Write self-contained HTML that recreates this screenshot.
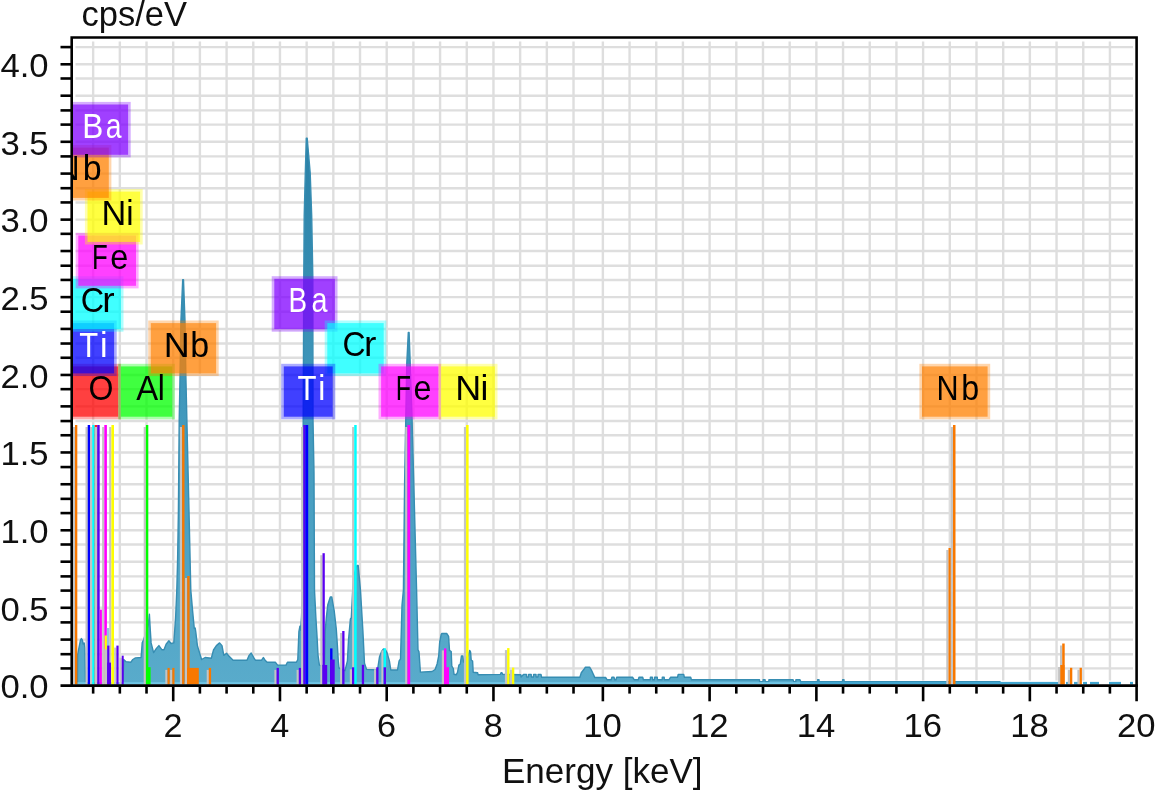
<!DOCTYPE html>
<html lang="en"><head><meta charset="utf-8"><title>EDS spectrum</title>
<style>
html,body{margin:0;padding:0;background:#fff;}
body{width:1155px;height:791px;overflow:hidden;font-family:"Liberation Sans",sans-serif;}
svg{display:block;}
text{font-family:"Liberation Sans",sans-serif;}
.tk{font-size:33px;fill:#101010;}
.lb{font-size:34.5px;}
</style></head><body>
<svg width="1155" height="791" viewBox="0 0 1155 791">
<rect x="0" y="0" width="1155" height="791" fill="#ffffff"/>
<defs><linearGradient id="sg" gradientUnits="userSpaceOnUse" x1="0" y1="138" x2="0" y2="685"><stop offset="0" stop-color="#2a80a6"/><stop offset="0.5" stop-color="#4199bd"/><stop offset="0.85" stop-color="#52a6c7"/><stop offset="1" stop-color="#59abcb"/></linearGradient><clipPath id="plot"><rect x="72.7" y="38.5" width="1062.9" height="646.1"/></clipPath></defs>
<g stroke="#dedede" stroke-width="2.4" fill="none">
<line x1="93.15" y1="41.5" x2="93.15" y2="680.6"/>
<line x1="119.84" y1="41.5" x2="119.84" y2="680.6"/>
<line x1="146.52" y1="41.5" x2="146.52" y2="680.6"/>
<line x1="173.21" y1="41.5" x2="173.21" y2="680.6"/>
<line x1="199.90" y1="41.5" x2="199.90" y2="680.6"/>
<line x1="226.59" y1="41.5" x2="226.59" y2="680.6"/>
<line x1="253.27" y1="41.5" x2="253.27" y2="680.6"/>
<line x1="279.96" y1="41.5" x2="279.96" y2="680.6"/>
<line x1="306.65" y1="41.5" x2="306.65" y2="680.6"/>
<line x1="333.33" y1="41.5" x2="333.33" y2="680.6"/>
<line x1="360.02" y1="41.5" x2="360.02" y2="680.6"/>
<line x1="386.71" y1="41.5" x2="386.71" y2="680.6"/>
<line x1="413.39" y1="41.5" x2="413.39" y2="680.6"/>
<line x1="440.08" y1="41.5" x2="440.08" y2="680.6"/>
<line x1="466.77" y1="41.5" x2="466.77" y2="680.6"/>
<line x1="493.45" y1="41.5" x2="493.45" y2="680.6"/>
<line x1="520.14" y1="41.5" x2="520.14" y2="680.6"/>
<line x1="546.83" y1="41.5" x2="546.83" y2="680.6"/>
<line x1="573.52" y1="41.5" x2="573.52" y2="680.6"/>
<line x1="602.87" y1="41.5" x2="602.87" y2="680.6"/>
<line x1="629.56" y1="41.5" x2="629.56" y2="680.6"/>
<line x1="656.25" y1="41.5" x2="656.25" y2="680.6"/>
<line x1="682.93" y1="41.5" x2="682.93" y2="680.6"/>
<line x1="709.62" y1="41.5" x2="709.62" y2="680.6"/>
<line x1="736.31" y1="41.5" x2="736.31" y2="680.6"/>
<line x1="762.99" y1="41.5" x2="762.99" y2="680.6"/>
<line x1="789.68" y1="41.5" x2="789.68" y2="680.6"/>
<line x1="816.37" y1="41.5" x2="816.37" y2="680.6"/>
<line x1="843.05" y1="41.5" x2="843.05" y2="680.6"/>
<line x1="869.74" y1="41.5" x2="869.74" y2="680.6"/>
<line x1="896.43" y1="41.5" x2="896.43" y2="680.6"/>
<line x1="923.12" y1="41.5" x2="923.12" y2="680.6"/>
<line x1="949.80" y1="41.5" x2="949.80" y2="680.6"/>
<line x1="976.49" y1="41.5" x2="976.49" y2="680.6"/>
<line x1="1003.18" y1="41.5" x2="1003.18" y2="680.6"/>
<line x1="1029.86" y1="41.5" x2="1029.86" y2="680.6"/>
<line x1="1056.55" y1="41.5" x2="1056.55" y2="680.6"/>
<line x1="1083.24" y1="41.5" x2="1083.24" y2="680.6"/>
<line x1="1109.92" y1="41.5" x2="1109.92" y2="680.6"/>
<line x1="75.5" y1="47.10" x2="1133.0" y2="47.10"/>
<line x1="75.5" y1="64.30" x2="1133.0" y2="64.30"/>
<line x1="75.5" y1="78.50" x2="1133.0" y2="78.50"/>
<line x1="75.5" y1="95.70" x2="1133.0" y2="95.70"/>
<line x1="75.5" y1="110.40" x2="1133.0" y2="110.40"/>
<line x1="75.5" y1="124.60" x2="1133.0" y2="124.60"/>
<line x1="75.5" y1="141.80" x2="1133.0" y2="141.80"/>
<line x1="75.5" y1="156.40" x2="1133.0" y2="156.40"/>
<line x1="75.5" y1="173.60" x2="1133.0" y2="173.60"/>
<line x1="75.5" y1="188.20" x2="1133.0" y2="188.20"/>
<line x1="75.5" y1="202.43" x2="1133.0" y2="202.43"/>
<line x1="75.5" y1="219.63" x2="1133.0" y2="219.63"/>
<line x1="75.5" y1="233.83" x2="1133.0" y2="233.83"/>
<line x1="75.5" y1="251.03" x2="1133.0" y2="251.03"/>
<line x1="75.5" y1="265.73" x2="1133.0" y2="265.73"/>
<line x1="75.5" y1="279.93" x2="1133.0" y2="279.93"/>
<line x1="75.5" y1="297.13" x2="1133.0" y2="297.13"/>
<line x1="75.5" y1="311.73" x2="1133.0" y2="311.73"/>
<line x1="75.5" y1="328.93" x2="1133.0" y2="328.93"/>
<line x1="75.5" y1="343.53" x2="1133.0" y2="343.53"/>
<line x1="75.5" y1="357.76" x2="1133.0" y2="357.76"/>
<line x1="75.5" y1="374.96" x2="1133.0" y2="374.96"/>
<line x1="75.5" y1="389.16" x2="1133.0" y2="389.16"/>
<line x1="75.5" y1="406.36" x2="1133.0" y2="406.36"/>
<line x1="75.5" y1="421.06" x2="1133.0" y2="421.06"/>
<line x1="75.5" y1="435.26" x2="1133.0" y2="435.26"/>
<line x1="75.5" y1="452.46" x2="1133.0" y2="452.46"/>
<line x1="75.5" y1="467.06" x2="1133.0" y2="467.06"/>
<line x1="75.5" y1="484.26" x2="1133.0" y2="484.26"/>
<line x1="75.5" y1="498.86" x2="1133.0" y2="498.86"/>
<line x1="75.5" y1="513.09" x2="1133.0" y2="513.09"/>
<line x1="75.5" y1="530.29" x2="1133.0" y2="530.29"/>
<line x1="75.5" y1="544.49" x2="1133.0" y2="544.49"/>
<line x1="75.5" y1="561.69" x2="1133.0" y2="561.69"/>
<line x1="75.5" y1="576.39" x2="1133.0" y2="576.39"/>
<line x1="75.5" y1="590.59" x2="1133.0" y2="590.59"/>
<line x1="75.5" y1="607.79" x2="1133.0" y2="607.79"/>
<line x1="75.5" y1="622.39" x2="1133.0" y2="622.39"/>
<line x1="75.5" y1="639.59" x2="1133.0" y2="639.59"/>
<line x1="75.5" y1="654.19" x2="1133.0" y2="654.19"/>
<line x1="75.5" y1="668.42" x2="1133.0" y2="668.42"/>
</g>
<g clip-path="url(#plot)">
<polygon fill="url(#sg)" points="77.4,685.6 77.4,684.6 77.6,655.0 78.5,650.0 80.5,640.0 81.4,638.6 82.3,640.0 83.2,644.0 84.2,643.0 84.9,648.0 85.5,684.6 123.0,684.6 123.7,659.5 125.8,661.6 130.7,662.3 132.8,659.5 135.5,657.9 141.1,657.5 142.2,642.9 143.5,640.0 148.3,625.0 149.4,614.3 150.3,630.0 151.1,642.9 153.6,652.6 156.4,648.4 158.9,645.6 162.0,649.8 164.0,649.8 166.1,644.2 168.9,640.8 171.0,643.5 173.8,642.9 175.6,617.8 176.8,590.0 177.6,560.0 178.4,511.0 179.2,420.0 180.0,377.5 180.9,321.6 182.7,279.7 183.5,279.7 185.0,321.6 185.9,377.5 187.0,425.0 189.0,511.0 190.8,590.0 192.6,610.9 194.3,628.5 195.2,628.0 195.8,632.0 197.4,645.6 199.5,652.6 201.6,659.5 205.1,657.5 211.3,658.2 213.5,650.0 216.4,645.6 219.6,642.9 222.0,645.6 223.8,655.4 226.6,653.3 228.9,656.1 233.1,660.2 247.0,660.2 249.1,655.4 251.2,653.0 254.0,658.2 255.4,660.2 261.6,660.2 263.3,657.5 265.1,660.2 267.2,662.3 275.5,662.3 277.6,665.1 286.0,665.1 287.4,662.3 296.4,662.3 297.8,659.5 298.9,631.7 299.9,626.2 300.6,630.0 301.5,617.0 302.7,590.0 303.2,420.0 303.8,276.0 304.2,216.0 305.3,173.0 306.3,138.2 307.2,138.2 310.2,173.0 311.7,216.0 312.8,276.0 313.0,420.0 314.0,473.0 314.5,590.0 315.9,617.8 317.0,635.9 318.0,655.0 319.4,665.1 321.4,665.8 324.5,665.0 325.2,631.0 326.3,617.8 327.8,604.7 330.3,597.0 331.8,597.0 334.2,610.8 336.3,629.0 337.4,645.6 338.3,661.3 339.0,668.0 345.0,670.7 347.4,661.0 348.5,640.0 350.4,618.9 351.3,617.8 352.7,590.0 354.0,575.0 357.0,565.4 358.2,565.4 360.5,590.6 362.9,631.0 364.5,663.3 366.6,669.4 377.5,670.0 379.5,656.8 381.7,651.2 383.5,649.0 385.5,649.8 387.0,652.6 389.4,660.9 390.8,670.0 397.5,670.0 399.1,660.9 400.5,659.0 402.0,605.3 403.4,590.0 404.6,483.4 405.8,416.8 406.8,363.0 408.3,332.5 409.1,332.5 410.2,363.0 412.0,416.8 413.8,483.4 416.6,590.0 418.0,649.8 419.0,651.9 420.4,672.1 432.1,671.5 435.1,669.5 437.1,664.0 438.7,656.0 439.7,642.0 441.2,634.5 441.9,633.5 446.7,633.5 448.6,636.3 449.5,650.4 451.2,651.5 451.8,666.0 453.3,668.5 454.0,674.2 456.3,674.7 457.4,672.7 458.9,665.1 460.3,664.0 461.4,656.0 462.9,656.0 463.5,662.0 468.5,655.0 469.7,650.4 470.6,652.0 471.2,660.0 472.6,661.0 473.2,672.2 477.6,672.7 478.1,674.7 500.4,674.4 501.0,672.8 502.0,672.8 502.6,674.4 520.8,674.8 521.0,677.0 523.5,674.4 526.5,674.4 526.6,677.0 528.5,677.0 528.6,674.4 531.2,674.4 531.3,677.0 533.5,677.0 533.6,674.4 536.0,674.4 536.1,677.0 538.0,677.0 538.1,674.4 541.0,674.4 541.6,677.3 579.9,677.3 581.3,672.8 584.0,669.3 585.4,667.2 589.6,667.2 591.7,670.7 594.5,676.9 594.6,677.5 605.6,677.5 607.0,679.7 611.2,679.7 611.9,677.3 614.0,677.3 614.7,679.7 616.0,679.7 616.7,677.3 632.7,677.3 634.1,679.7 638.3,679.7 639.0,677.3 642.7,677.3 643.4,679.7 650.3,679.7 650.4,677.3 652.4,677.3 652.5,679.7 654.5,679.7 654.6,677.3 657.3,677.3 657.4,679.7 662.2,679.7 662.3,677.3 664.2,677.3 664.3,679.7 669.1,679.7 670.5,677.3 677.5,677.3 678.2,674.4 683.7,674.4 684.4,677.3 690.7,677.3 691.4,679.7 759.5,679.7 759.6,681.8 763.0,681.8 763.1,679.7 765.1,679.7 765.2,681.8 768.8,681.8 768.9,679.7 793.1,679.7 793.8,681.8 795.8,681.8 795.9,679.7 800.0,679.7 800.8,681.8 817.5,681.8 817.6,679.7 819.0,679.7 819.1,681.8 842.5,681.8 842.6,679.7 844.0,679.7 844.1,681.8 1000.0,681.8 1000.0,684.6 1000.0,685.6"/>
<polyline fill="none" stroke="#378db2" stroke-width="1.4" stroke-linejoin="round" points="77.4,684.6 77.6,655.0 78.5,650.0 80.5,640.0 81.4,638.6 82.3,640.0 83.2,644.0 84.2,643.0 84.9,648.0 85.5,684.6 123.0,684.6 123.7,659.5 125.8,661.6 130.7,662.3 132.8,659.5 135.5,657.9 141.1,657.5 142.2,642.9 143.5,640.0 148.3,625.0 149.4,614.3 150.3,630.0 151.1,642.9 153.6,652.6 156.4,648.4 158.9,645.6 162.0,649.8 164.0,649.8 166.1,644.2 168.9,640.8 171.0,643.5 173.8,642.9 175.6,617.8 176.8,590.0 177.6,560.0 178.4,511.0 179.2,420.0 180.0,377.5 180.9,321.6 182.7,279.7 183.5,279.7 185.0,321.6 185.9,377.5 187.0,425.0 189.0,511.0 190.8,590.0 192.6,610.9 194.3,628.5 195.2,628.0 195.8,632.0 197.4,645.6 199.5,652.6 201.6,659.5 205.1,657.5 211.3,658.2 213.5,650.0 216.4,645.6 219.6,642.9 222.0,645.6 223.8,655.4 226.6,653.3 228.9,656.1 233.1,660.2 247.0,660.2 249.1,655.4 251.2,653.0 254.0,658.2 255.4,660.2 261.6,660.2 263.3,657.5 265.1,660.2 267.2,662.3 275.5,662.3 277.6,665.1 286.0,665.1 287.4,662.3 296.4,662.3 297.8,659.5 298.9,631.7 299.9,626.2 300.6,630.0 301.5,617.0 302.7,590.0 303.2,420.0 303.8,276.0 304.2,216.0 305.3,173.0 306.3,138.2 307.2,138.2 310.2,173.0 311.7,216.0 312.8,276.0 313.0,420.0 314.0,473.0 314.5,590.0 315.9,617.8 317.0,635.9 318.0,655.0 319.4,665.1 321.4,665.8 324.5,665.0 325.2,631.0 326.3,617.8 327.8,604.7 330.3,597.0 331.8,597.0 334.2,610.8 336.3,629.0 337.4,645.6 338.3,661.3 339.0,668.0 345.0,670.7 347.4,661.0 348.5,640.0 350.4,618.9 351.3,617.8 352.7,590.0 354.0,575.0 357.0,565.4 358.2,565.4 360.5,590.6 362.9,631.0 364.5,663.3 366.6,669.4 377.5,670.0 379.5,656.8 381.7,651.2 383.5,649.0 385.5,649.8 387.0,652.6 389.4,660.9 390.8,670.0 397.5,670.0 399.1,660.9 400.5,659.0 402.0,605.3 403.4,590.0 404.6,483.4 405.8,416.8 406.8,363.0 408.3,332.5 409.1,332.5 410.2,363.0 412.0,416.8 413.8,483.4 416.6,590.0 418.0,649.8 419.0,651.9 420.4,672.1 432.1,671.5 435.1,669.5 437.1,664.0 438.7,656.0 439.7,642.0 441.2,634.5 441.9,633.5 446.7,633.5 448.6,636.3 449.5,650.4 451.2,651.5 451.8,666.0 453.3,668.5 454.0,674.2 456.3,674.7 457.4,672.7 458.9,665.1 460.3,664.0 461.4,656.0 462.9,656.0 463.5,662.0 468.5,655.0 469.7,650.4 470.6,652.0 471.2,660.0 472.6,661.0 473.2,672.2 477.6,672.7 478.1,674.7 500.4,674.4 501.0,672.8 502.0,672.8 502.6,674.4 520.8,674.8 521.0,677.0 523.5,674.4 526.5,674.4 526.6,677.0 528.5,677.0 528.6,674.4 531.2,674.4 531.3,677.0 533.5,677.0 533.6,674.4 536.0,674.4 536.1,677.0 538.0,677.0 538.1,674.4 541.0,674.4 541.6,677.3 579.9,677.3 581.3,672.8 584.0,669.3 585.4,667.2 589.6,667.2 591.7,670.7 594.5,676.9 594.6,677.5 605.6,677.5 607.0,679.7 611.2,679.7 611.9,677.3 614.0,677.3 614.7,679.7 616.0,679.7 616.7,677.3 632.7,677.3 634.1,679.7 638.3,679.7 639.0,677.3 642.7,677.3 643.4,679.7 650.3,679.7 650.4,677.3 652.4,677.3 652.5,679.7 654.5,679.7 654.6,677.3 657.3,677.3 657.4,679.7 662.2,679.7 662.3,677.3 664.2,677.3 664.3,679.7 669.1,679.7 670.5,677.3 677.5,677.3 678.2,674.4 683.7,674.4 684.4,677.3 690.7,677.3 691.4,679.7 759.5,679.7 759.6,681.8 763.0,681.8 763.1,679.7 765.1,679.7 765.2,681.8 768.8,681.8 768.9,679.7 793.1,679.7 793.8,681.8 795.8,681.8 795.9,679.7 800.0,679.7 800.8,681.8 817.5,681.8 817.6,679.7 819.0,679.7 819.1,681.8 842.5,681.8 842.6,679.7 844.0,679.7 844.1,681.8 1000.0,681.8 1000.0,684.6"/>
<rect x="77.4" y="682.2" width="722.6" height="2.4" fill="#6fc6e6"/>
<rect x="800" y="681.9" width="200.5" height="3" fill="#41a6d0"/>
<rect x="1000" y="681.9" width="60" height="3" fill="#41a6d0"/>
<rect x="1066" y="681.9" width="3" height="3" fill="#41a6d0"/>
<rect x="1074" y="681.9" width="4" height="3" fill="#41a6d0"/>
<rect x="1083" y="681.9" width="4" height="3" fill="#41a6d0"/>
<rect x="1090" y="681.9" width="9" height="3" fill="#41a6d0"/>
<rect x="1109" y="681.9" width="12" height="3" fill="#41a6d0"/>
<rect x="1130" y="681.9" width="3" height="3" fill="#41a6d0"/>
<rect x="72.8" y="427.0" width="2.2" height="258.6" fill="#c4c4c4"/>
<rect x="75.0" y="425.0" width="2.3" height="260.6" fill="#f87800"/>
<rect x="85.5" y="427.0" width="2.2" height="258.6" fill="#c4c4c4"/>
<rect x="87.7" y="425.0" width="2.4" height="260.6" fill="#0000ff"/>
<rect x="90.0" y="427.0" width="2.2" height="258.6" fill="#c4c4c4"/>
<rect x="92.2" y="425.0" width="2.5" height="260.6" fill="#00ffff"/>
<rect x="94.7" y="425.0" width="2.6" height="260.6" fill="#ff2020"/>
<rect x="95.0" y="427.0" width="2.2" height="258.6" fill="#c4c4c4"/>
<rect x="97.2" y="425.0" width="2.5" height="260.6" fill="#5a00f0"/>
<rect x="99.7" y="609.6" width="2.2" height="76.0" fill="#ff00ff"/>
<rect x="102.1" y="427.0" width="2.2" height="258.6" fill="#c4c4c4"/>
<rect x="104.3" y="425.0" width="2.6" height="260.6" fill="#ff00ff"/>
<rect x="106.8" y="628.0" width="2.6" height="57.6" fill="#8fc6dd"/>
<rect x="104.6" y="635.5" width="2.3" height="50.1" fill="#ffff00"/>
<rect x="109.2" y="427.0" width="2.2" height="258.6" fill="#c4c4c4"/>
<rect x="111.4" y="425.0" width="2.6" height="260.6" fill="#ffff00"/>
<rect x="104.2" y="649.4" width="3.0" height="36.2" fill="#c4c4c4"/>
<rect x="107.2" y="645.6" width="2.2" height="40.0" fill="#5a00f0"/>
<rect x="107.2" y="662.6" width="3.8" height="23.0" fill="#5a00f0"/>
<rect x="114.2" y="647.6" width="2.2" height="38.0" fill="#c4c4c4"/>
<rect x="116.4" y="645.6" width="2.2" height="40.0" fill="#5a00f0"/>
<rect x="119.5" y="657.7" width="2.2" height="27.9" fill="#c4c4c4"/>
<rect x="121.7" y="655.7" width="2.0" height="29.9" fill="#5a00f0"/>
<rect x="143.7" y="427.0" width="2.2" height="258.6" fill="#c4c4c4"/>
<rect x="145.9" y="425.0" width="2.4" height="260.6" fill="#00ff00"/>
<rect x="146.0" y="667.2" width="4.6" height="18.4" fill="#00ff00"/>
<rect x="165.3" y="669.9" width="2.2" height="15.7" fill="#c4c4c4"/>
<rect x="167.5" y="667.9" width="2.2" height="17.7" fill="#f87800"/>
<rect x="170.1" y="669.9" width="2.2" height="15.7" fill="#c4c4c4"/>
<rect x="172.3" y="667.9" width="2.2" height="17.7" fill="#f87800"/>
<rect x="179.9" y="427.0" width="2.2" height="258.6" fill="#c4c4c4"/>
<rect x="182.1" y="425.0" width="2.4" height="260.6" fill="#f87800"/>
<rect x="185.0" y="578.0" width="2.2" height="107.6" fill="#c4c4c4"/>
<rect x="187.2" y="576.0" width="2.4" height="109.6" fill="#f87800"/>
<rect x="187.0" y="667.9" width="11.8" height="17.7" fill="#f87800"/>
<rect x="206.7" y="669.9" width="2.2" height="15.7" fill="#c4c4c4"/>
<rect x="208.8" y="667.9" width="2.3" height="17.7" fill="#f87800"/>
<rect x="274.4" y="669.9" width="2.2" height="15.7" fill="#c4c4c4"/>
<rect x="276.6" y="667.9" width="2.3" height="17.7" fill="#5a00f0"/>
<rect x="296.6" y="669.9" width="2.2" height="15.7" fill="#c4c4c4"/>
<rect x="298.8" y="667.9" width="2.3" height="17.7" fill="#5a00f0"/>
<rect x="301.1" y="427.0" width="2.2" height="258.6" fill="#c4c4c4"/>
<rect x="303.3" y="425.0" width="2.2" height="260.6" fill="#5a00f0"/>
<rect x="305.4" y="425.0" width="2.8" height="260.6" fill="#0000ff"/>
<rect x="320.3" y="555.2" width="2.2" height="130.4" fill="#c4c4c4"/>
<rect x="322.5" y="553.2" width="2.3" height="132.4" fill="#5a00f0"/>
<rect x="322.5" y="665.0" width="4.7" height="20.6" fill="#5a00f0"/>
<rect x="330.1" y="648.4" width="2.4" height="37.2" fill="#0000ff"/>
<rect x="330.1" y="659.5" width="4.6" height="26.1" fill="#5a00f0"/>
<rect x="340.1" y="633.0" width="2.2" height="52.6" fill="#c4c4c4"/>
<rect x="342.2" y="631.0" width="2.3" height="54.6" fill="#5a00f0"/>
<rect x="352.1" y="427.0" width="2.2" height="258.6" fill="#c4c4c4"/>
<rect x="354.2" y="425.0" width="2.5" height="260.6" fill="#00ffff"/>
<rect x="349.8" y="669.3" width="2.2" height="16.3" fill="#c4c4c4"/>
<rect x="352.0" y="667.3" width="2.2" height="18.3" fill="#5a00f0"/>
<rect x="361.8" y="664.8" width="2.3" height="20.8" fill="#5a00f0"/>
<rect x="374.0" y="669.3" width="2.2" height="16.3" fill="#c4c4c4"/>
<rect x="376.2" y="667.3" width="2.3" height="18.3" fill="#5a00f0"/>
<rect x="381.4" y="650.3" width="2.2" height="35.3" fill="#c4c4c4"/>
<rect x="383.6" y="648.3" width="2.4" height="37.3" fill="#00ffff"/>
<rect x="383.6" y="667.3" width="2.4" height="18.3" fill="#5a00f0"/>
<rect x="405.2" y="427.0" width="2.2" height="258.6" fill="#c4c4c4"/>
<rect x="407.4" y="425.0" width="2.8" height="260.6" fill="#ff00ff"/>
<rect x="441.8" y="650.4" width="2.2" height="35.2" fill="#c4c4c4"/>
<rect x="444.0" y="648.4" width="2.4" height="37.2" fill="#ff00ff"/>
<rect x="444.0" y="667.2" width="5.0" height="18.4" fill="#ff00ff"/>
<rect x="463.9" y="427.0" width="2.2" height="258.6" fill="#c4c4c4"/>
<rect x="466.1" y="425.0" width="2.5" height="260.6" fill="#ffff00"/>
<rect x="504.9" y="650.1" width="2.2" height="35.5" fill="#c4c4c4"/>
<rect x="507.1" y="648.1" width="2.4" height="37.5" fill="#ffff00"/>
<rect x="509.8" y="669.6" width="2.2" height="16.0" fill="#c4c4c4"/>
<rect x="512.0" y="667.6" width="2.3" height="18.0" fill="#ffff00"/>
<rect x="946.3" y="550.0" width="2.2" height="135.6" fill="#c4c4c4"/>
<rect x="948.5" y="548.0" width="2.4" height="137.6" fill="#f87800"/>
<rect x="950.8" y="427.0" width="2.2" height="258.6" fill="#c4c4c4"/>
<rect x="953.0" y="425.0" width="2.5" height="260.6" fill="#f87800"/>
<rect x="1060.0" y="645.5" width="2.2" height="40.1" fill="#c4c4c4"/>
<rect x="1062.2" y="643.5" width="2.5" height="42.1" fill="#f87800"/>
<rect x="1058.1" y="667.0" width="2.2" height="18.6" fill="#c4c4c4"/>
<rect x="1060.3" y="665.0" width="4.2" height="20.6" fill="#f87800"/>
<rect x="1067.8" y="669.8" width="2.2" height="15.8" fill="#c4c4c4"/>
<rect x="1070.0" y="667.8" width="2.3" height="17.8" fill="#f87800"/>
<rect x="1077.4" y="669.8" width="2.2" height="15.8" fill="#c4c4c4"/>
<rect x="1079.6" y="667.8" width="2.3" height="17.8" fill="#f87800"/>
</g>
<g clip-path="url(#plot)">
<rect x="58.7" y="363.8" width="62.1" height="55.5" fill="#ff0000" fill-opacity="0.32"/>
<rect x="61.3" y="366.4" width="56.9" height="50.3" fill="#ff0000" fill-opacity="0.632"/>
<rect x="118.2" y="363.8" width="56.7" height="55.5" fill="#00ff00" fill-opacity="0.32"/>
<rect x="120.8" y="366.4" width="51.5" height="50.3" fill="#00ff00" fill-opacity="0.632"/>
<rect x="58.7" y="320.5" width="58.0" height="55.5" fill="#0000ff" fill-opacity="0.32"/>
<rect x="61.3" y="323.1" width="52.8" height="50.3" fill="#0000ff" fill-opacity="0.632"/>
<rect x="148.2" y="320.5" width="70.5" height="55.5" fill="#ff8000" fill-opacity="0.32"/>
<rect x="150.8" y="323.1" width="65.3" height="50.3" fill="#ff8000" fill-opacity="0.632"/>
<rect x="58.7" y="276.2" width="64.8" height="55.5" fill="#00ffff" fill-opacity="0.32"/>
<rect x="61.3" y="278.8" width="59.6" height="50.3" fill="#00ffff" fill-opacity="0.632"/>
<rect x="75.7" y="232.9" width="62.9" height="55.5" fill="#ff00ff" fill-opacity="0.32"/>
<rect x="78.3" y="235.5" width="57.7" height="50.3" fill="#ff00ff" fill-opacity="0.632"/>
<rect x="84.9" y="189.0" width="57.8" height="55.5" fill="#ffff00" fill-opacity="0.32"/>
<rect x="87.5" y="191.6" width="52.6" height="50.3" fill="#ffff00" fill-opacity="0.632"/>
<rect x="40.7" y="145.0" width="70.7" height="55.5" fill="#ff8000" fill-opacity="0.32"/>
<rect x="43.3" y="147.6" width="65.5" height="50.3" fill="#ff8000" fill-opacity="0.632"/>
<rect x="65.5" y="101.9" width="65.2" height="55.5" fill="#8000ff" fill-opacity="0.32"/>
<rect x="68.1" y="104.5" width="60.0" height="50.3" fill="#8000ff" fill-opacity="0.632"/>
<rect x="271.7" y="276.2" width="65.8" height="55.5" fill="#8000ff" fill-opacity="0.32"/>
<rect x="274.3" y="278.8" width="60.6" height="50.3" fill="#8000ff" fill-opacity="0.632"/>
<rect x="324.7" y="320.5" width="61.6" height="55.5" fill="#00ffff" fill-opacity="0.32"/>
<rect x="327.3" y="323.1" width="56.4" height="50.3" fill="#00ffff" fill-opacity="0.632"/>
<rect x="281.2" y="363.8" width="54.1" height="55.5" fill="#0000ff" fill-opacity="0.32"/>
<rect x="283.8" y="366.4" width="48.9" height="50.3" fill="#0000ff" fill-opacity="0.632"/>
<rect x="378.5" y="363.8" width="62.6" height="55.5" fill="#ff00ff" fill-opacity="0.32"/>
<rect x="381.1" y="366.4" width="57.4" height="50.3" fill="#ff00ff" fill-opacity="0.632"/>
<rect x="438.5" y="363.8" width="59.0" height="55.5" fill="#ffff00" fill-opacity="0.32"/>
<rect x="441.1" y="366.4" width="53.8" height="50.3" fill="#ffff00" fill-opacity="0.632"/>
<rect x="919.4" y="363.8" width="70.8" height="55.5" fill="#ff8000" fill-opacity="0.32"/>
<rect x="922.0" y="366.4" width="65.6" height="50.3" fill="#ff8000" fill-opacity="0.632"/>
<text class="lb" y="399.7" fill="#000"><tspan x="88.39" textLength="24.95" lengthAdjust="spacingAndGlyphs">O</tspan></text>
<text class="lb" y="399.7" fill="#000"><tspan x="136.13" textLength="21.93" lengthAdjust="spacingAndGlyphs">A</tspan><tspan x="157.87" textLength="7.06" lengthAdjust="spacingAndGlyphs">l</tspan></text>
<text class="lb" y="356.5" fill="#fff"><tspan x="79.32" textLength="18.92" lengthAdjust="spacingAndGlyphs">T</tspan><tspan x="99.92" textLength="7.57" lengthAdjust="spacingAndGlyphs">i</tspan></text>
<text class="lb" y="356.5" fill="#000"><tspan x="163.85" textLength="25.96" lengthAdjust="spacingAndGlyphs">N</tspan><tspan x="190.22" textLength="18.90" lengthAdjust="spacingAndGlyphs">b</tspan></text>
<text class="lb" y="312.0" fill="#000"><tspan x="80.65" textLength="23.38" lengthAdjust="spacingAndGlyphs">C</tspan><tspan x="102.34" textLength="12.39" lengthAdjust="spacingAndGlyphs">r</tspan></text>
<text class="lb" y="268.9" fill="#000"><tspan x="92.09" textLength="15.74" lengthAdjust="spacingAndGlyphs">F</tspan><tspan x="110.14" textLength="18.02" lengthAdjust="spacingAndGlyphs">e</tspan></text>
<text class="lb" y="224.7" fill="#000"><tspan x="101.38" textLength="24.80" lengthAdjust="spacingAndGlyphs">N</tspan><tspan x="126.29" textLength="7.32" lengthAdjust="spacingAndGlyphs">i</tspan></text>
<text class="lb" y="180.2" fill="#000"><tspan x="57.28" textLength="22.22" lengthAdjust="spacingAndGlyphs">N</tspan><tspan x="82.72" textLength="18.90" lengthAdjust="spacingAndGlyphs">b</tspan></text>
<text class="lb" y="137.6" fill="#fff"><tspan x="82.21" textLength="21.06" lengthAdjust="spacingAndGlyphs">B</tspan><tspan x="105.71" textLength="15.79" lengthAdjust="spacingAndGlyphs">a</tspan></text>
<text class="lb" y="312.4" fill="#fff"><tspan x="288.52" textLength="18.56" lengthAdjust="spacingAndGlyphs">B</tspan><tspan x="311.59" textLength="16.01" lengthAdjust="spacingAndGlyphs">a</tspan></text>
<text class="lb" y="356.3" fill="#000"><tspan x="342.57" textLength="23.04" lengthAdjust="spacingAndGlyphs">C</tspan><tspan x="364.04" textLength="12.39" lengthAdjust="spacingAndGlyphs">r</tspan></text>
<text class="lb" y="399.7" fill="#fff"><tspan x="297.51" textLength="19.03" lengthAdjust="spacingAndGlyphs">T</tspan><tspan x="318.17" textLength="7.06" lengthAdjust="spacingAndGlyphs">i</tspan></text>
<text class="lb" y="399.7" fill="#000"><tspan x="395.85" textLength="15.24" lengthAdjust="spacingAndGlyphs">F</tspan><tspan x="413.45" textLength="17.90" lengthAdjust="spacingAndGlyphs">e</tspan></text>
<text class="lb" y="399.7" fill="#000"><tspan x="455.15" textLength="25.96" lengthAdjust="spacingAndGlyphs">N</tspan><tspan x="480.54" textLength="7.82" lengthAdjust="spacingAndGlyphs">i</tspan></text>
<text class="lb" y="399.7" fill="#000"><tspan x="936.49" textLength="22.09" lengthAdjust="spacingAndGlyphs">N</tspan><tspan x="961.34" textLength="17.92" lengthAdjust="spacingAndGlyphs">b</tspan></text>
</g>
<g stroke="#000" stroke-width="2.6" fill="none" stroke-linecap="butt">
<path d="M1136.6 701.3 V37.5 H71.7 V686.9"/>
<path d="M60.5 685.6 H1137.9"/>
<line x1="60.5" y1="47.10" x2="71.7" y2="47.10"/>
<line x1="60.5" y1="64.30" x2="71.7" y2="64.30"/>
<line x1="60.5" y1="78.50" x2="71.7" y2="78.50"/>
<line x1="60.5" y1="95.70" x2="71.7" y2="95.70"/>
<line x1="60.5" y1="110.40" x2="71.7" y2="110.40"/>
<line x1="60.5" y1="124.60" x2="71.7" y2="124.60"/>
<line x1="60.5" y1="141.80" x2="71.7" y2="141.80"/>
<line x1="60.5" y1="156.40" x2="71.7" y2="156.40"/>
<line x1="60.5" y1="173.60" x2="71.7" y2="173.60"/>
<line x1="60.5" y1="188.20" x2="71.7" y2="188.20"/>
<line x1="60.5" y1="202.43" x2="71.7" y2="202.43"/>
<line x1="60.5" y1="219.63" x2="71.7" y2="219.63"/>
<line x1="60.5" y1="233.83" x2="71.7" y2="233.83"/>
<line x1="60.5" y1="251.03" x2="71.7" y2="251.03"/>
<line x1="60.5" y1="265.73" x2="71.7" y2="265.73"/>
<line x1="60.5" y1="279.93" x2="71.7" y2="279.93"/>
<line x1="60.5" y1="297.13" x2="71.7" y2="297.13"/>
<line x1="60.5" y1="311.73" x2="71.7" y2="311.73"/>
<line x1="60.5" y1="328.93" x2="71.7" y2="328.93"/>
<line x1="60.5" y1="343.53" x2="71.7" y2="343.53"/>
<line x1="60.5" y1="357.76" x2="71.7" y2="357.76"/>
<line x1="60.5" y1="374.96" x2="71.7" y2="374.96"/>
<line x1="60.5" y1="389.16" x2="71.7" y2="389.16"/>
<line x1="60.5" y1="406.36" x2="71.7" y2="406.36"/>
<line x1="60.5" y1="421.06" x2="71.7" y2="421.06"/>
<line x1="60.5" y1="435.26" x2="71.7" y2="435.26"/>
<line x1="60.5" y1="452.46" x2="71.7" y2="452.46"/>
<line x1="60.5" y1="467.06" x2="71.7" y2="467.06"/>
<line x1="60.5" y1="484.26" x2="71.7" y2="484.26"/>
<line x1="60.5" y1="498.86" x2="71.7" y2="498.86"/>
<line x1="60.5" y1="513.09" x2="71.7" y2="513.09"/>
<line x1="60.5" y1="530.29" x2="71.7" y2="530.29"/>
<line x1="60.5" y1="544.49" x2="71.7" y2="544.49"/>
<line x1="60.5" y1="561.69" x2="71.7" y2="561.69"/>
<line x1="60.5" y1="576.39" x2="71.7" y2="576.39"/>
<line x1="60.5" y1="590.59" x2="71.7" y2="590.59"/>
<line x1="60.5" y1="607.79" x2="71.7" y2="607.79"/>
<line x1="60.5" y1="622.39" x2="71.7" y2="622.39"/>
<line x1="60.5" y1="639.59" x2="71.7" y2="639.59"/>
<line x1="60.5" y1="654.19" x2="71.7" y2="654.19"/>
<line x1="60.5" y1="668.42" x2="71.7" y2="668.42"/>
<line x1="93.15" y1="685.6" x2="93.15" y2="693.6"/>
<line x1="119.84" y1="685.6" x2="119.84" y2="693.6"/>
<line x1="146.52" y1="685.6" x2="146.52" y2="693.6"/>
<line x1="173.21" y1="685.6" x2="173.21" y2="701.3"/>
<line x1="199.90" y1="685.6" x2="199.90" y2="693.6"/>
<line x1="226.59" y1="685.6" x2="226.59" y2="693.6"/>
<line x1="253.27" y1="685.6" x2="253.27" y2="693.6"/>
<line x1="279.96" y1="685.6" x2="279.96" y2="701.3"/>
<line x1="306.65" y1="685.6" x2="306.65" y2="693.6"/>
<line x1="333.33" y1="685.6" x2="333.33" y2="693.6"/>
<line x1="360.02" y1="685.6" x2="360.02" y2="693.6"/>
<line x1="386.71" y1="685.6" x2="386.71" y2="701.3"/>
<line x1="413.39" y1="685.6" x2="413.39" y2="693.6"/>
<line x1="440.08" y1="685.6" x2="440.08" y2="693.6"/>
<line x1="466.77" y1="685.6" x2="466.77" y2="693.6"/>
<line x1="493.45" y1="685.6" x2="493.45" y2="701.3"/>
<line x1="520.14" y1="685.6" x2="520.14" y2="693.6"/>
<line x1="546.83" y1="685.6" x2="546.83" y2="693.6"/>
<line x1="573.52" y1="685.6" x2="573.52" y2="693.6"/>
<line x1="602.87" y1="685.6" x2="602.87" y2="701.3"/>
<line x1="629.56" y1="685.6" x2="629.56" y2="693.6"/>
<line x1="656.25" y1="685.6" x2="656.25" y2="693.6"/>
<line x1="682.93" y1="685.6" x2="682.93" y2="693.6"/>
<line x1="709.62" y1="685.6" x2="709.62" y2="701.3"/>
<line x1="736.31" y1="685.6" x2="736.31" y2="693.6"/>
<line x1="762.99" y1="685.6" x2="762.99" y2="693.6"/>
<line x1="789.68" y1="685.6" x2="789.68" y2="693.6"/>
<line x1="816.37" y1="685.6" x2="816.37" y2="701.3"/>
<line x1="843.05" y1="685.6" x2="843.05" y2="693.6"/>
<line x1="869.74" y1="685.6" x2="869.74" y2="693.6"/>
<line x1="896.43" y1="685.6" x2="896.43" y2="693.6"/>
<line x1="923.12" y1="685.6" x2="923.12" y2="701.3"/>
<line x1="949.80" y1="685.6" x2="949.80" y2="693.6"/>
<line x1="976.49" y1="685.6" x2="976.49" y2="693.6"/>
<line x1="1003.18" y1="685.6" x2="1003.18" y2="693.6"/>
<line x1="1029.86" y1="685.6" x2="1029.86" y2="701.3"/>
<line x1="1056.55" y1="685.6" x2="1056.55" y2="693.6"/>
<line x1="1083.24" y1="685.6" x2="1083.24" y2="693.6"/>
<line x1="1109.92" y1="685.6" x2="1109.92" y2="693.6"/>
</g>
<text class="tk" x="0.4" y="698.3" textLength="48.2" lengthAdjust="spacingAndGlyphs">0.0</text>
<text class="tk" x="0.4" y="620.5" textLength="48.2" lengthAdjust="spacingAndGlyphs">0.5</text>
<text class="tk" x="0.4" y="543.0" textLength="48.2" lengthAdjust="spacingAndGlyphs">1.0</text>
<text class="tk" x="0.4" y="465.2" textLength="48.2" lengthAdjust="spacingAndGlyphs">1.5</text>
<text class="tk" x="0.4" y="387.7" textLength="48.2" lengthAdjust="spacingAndGlyphs">2.0</text>
<text class="tk" x="0.4" y="309.8" textLength="48.2" lengthAdjust="spacingAndGlyphs">2.5</text>
<text class="tk" x="0.4" y="232.3" textLength="48.2" lengthAdjust="spacingAndGlyphs">3.0</text>
<text class="tk" x="0.4" y="154.5" textLength="48.2" lengthAdjust="spacingAndGlyphs">3.5</text>
<text class="tk" x="0.4" y="77.0" textLength="48.2" lengthAdjust="spacingAndGlyphs">4.0</text>
<text class="tk" x="163.4" y="736.9" textLength="19.0" lengthAdjust="spacingAndGlyphs">2</text>
<text class="tk" x="270.2" y="736.9" textLength="19.0" lengthAdjust="spacingAndGlyphs">4</text>
<text class="tk" x="376.9" y="736.9" textLength="19.0" lengthAdjust="spacingAndGlyphs">6</text>
<text class="tk" x="483.7" y="736.9" textLength="19.0" lengthAdjust="spacingAndGlyphs">8</text>
<text class="tk" x="583.3" y="736.9" textLength="38.6" lengthAdjust="spacingAndGlyphs">10</text>
<text class="tk" x="690.0" y="736.9" textLength="38.6" lengthAdjust="spacingAndGlyphs">12</text>
<text class="tk" x="796.8" y="736.9" textLength="38.6" lengthAdjust="spacingAndGlyphs">14</text>
<text class="tk" x="903.5" y="736.9" textLength="38.6" lengthAdjust="spacingAndGlyphs">16</text>
<text class="tk" x="1010.3" y="736.9" textLength="38.6" lengthAdjust="spacingAndGlyphs">18</text>
<text class="tk" x="1117.0" y="736.9" textLength="38.6" lengthAdjust="spacingAndGlyphs">20</text>
<text x="81.5" y="26.4" font-size="35" fill="#101010" textLength="105.5" lengthAdjust="spacingAndGlyphs">cps/eV</text>
<text x="502.0" y="783.3" font-size="35" fill="#101010" textLength="200.5" lengthAdjust="spacingAndGlyphs">Energy [keV]</text>
</svg>
</body></html>
